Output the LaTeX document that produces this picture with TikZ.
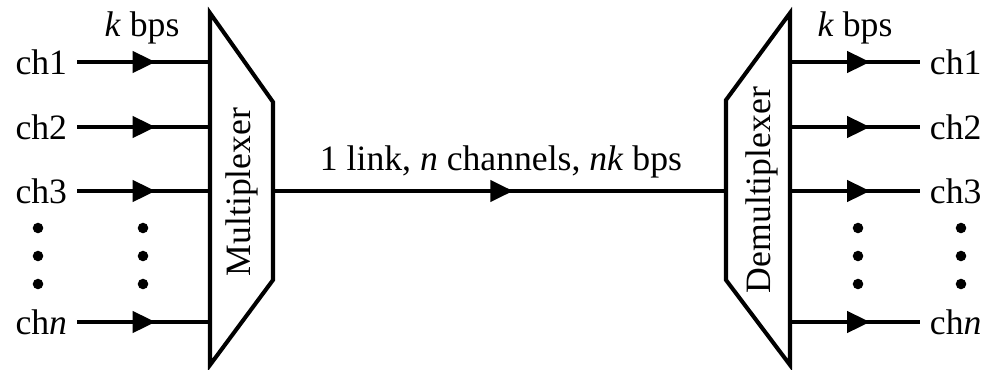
\documentclass[tikz,border=0pt]{standalone}
\usepackage{fontspec}
\setmainfont{Liberation Serif}
\usetikzlibrary{arrows.meta,decorations.markings}
\tikzset{
  flow/.style={postaction={decorate},
    decoration={markings,mark=at position #1 with {\arrow{Triangle[length=13pt,width=12pt]}}}},
  flow/.default=0.59,
  chlabel/.style={inner xsep=4.5pt,inner ysep=0pt},
  dot/.style={fill=black}
}
\begin{document}
\begin{tikzpicture}[x=0.02cm,y=-0.02cm,line width=2.3pt,font=\fontsize{20.3}{24}\selectfont]
    \useasboundingbox (0,0) rectangle (990,369);
    % multiplexer
    \draw[line join=miter] (210,13) -- (273,102) -- (273,280) -- (210,365) -- cycle;
    \node[rotate=90] (mux) at (242,192) {Multiplexer};
    % demultiplexer
    \draw[line join=miter] (790,13) -- (790,365) -- (726,280) -- (726,100) -- cycle;
    \node[rotate=90] (demux) at (762,190) {Demultiplexer};
    % channels in and out
    \foreach \name/\y/\t in {1/62/1,2/127/2,3/191/3,n/322/\textit{n}}{
        \node[chlabel,anchor=east] (in\name) at (77,\y) {ch\t};
        \coordinate (mux\name) at (210,\y);
        \draw[flow] (in\name) -- (mux\name);
        \node[chlabel,anchor=west] (out\name) at (920,\y) {ch\t};
        \coordinate (demux\name) at (790,\y);
        \draw[flow=0.615] (demux\name) -- (out\name);
    }
    \foreach \x in {38,143,858,961}
        \foreach \y in {228,256,284}
            \fill[dot] (\x,\y) circle (3pt);
    \node (kin) at (142,28) {\textit{k} bps};
    \node (kout) at (855,28) {\textit{k} bps};
    % the link
    \coordinate (muxout) at (273,191);
    \coordinate (demuxin) at (726,191);
    \draw[flow=0.53] (muxout) -- (demuxin);
    \node[anchor=base] (link) at (501,170) {1 link, \textit{n} channels, \textit{nk} bps};
\end{tikzpicture}
\end{document}
